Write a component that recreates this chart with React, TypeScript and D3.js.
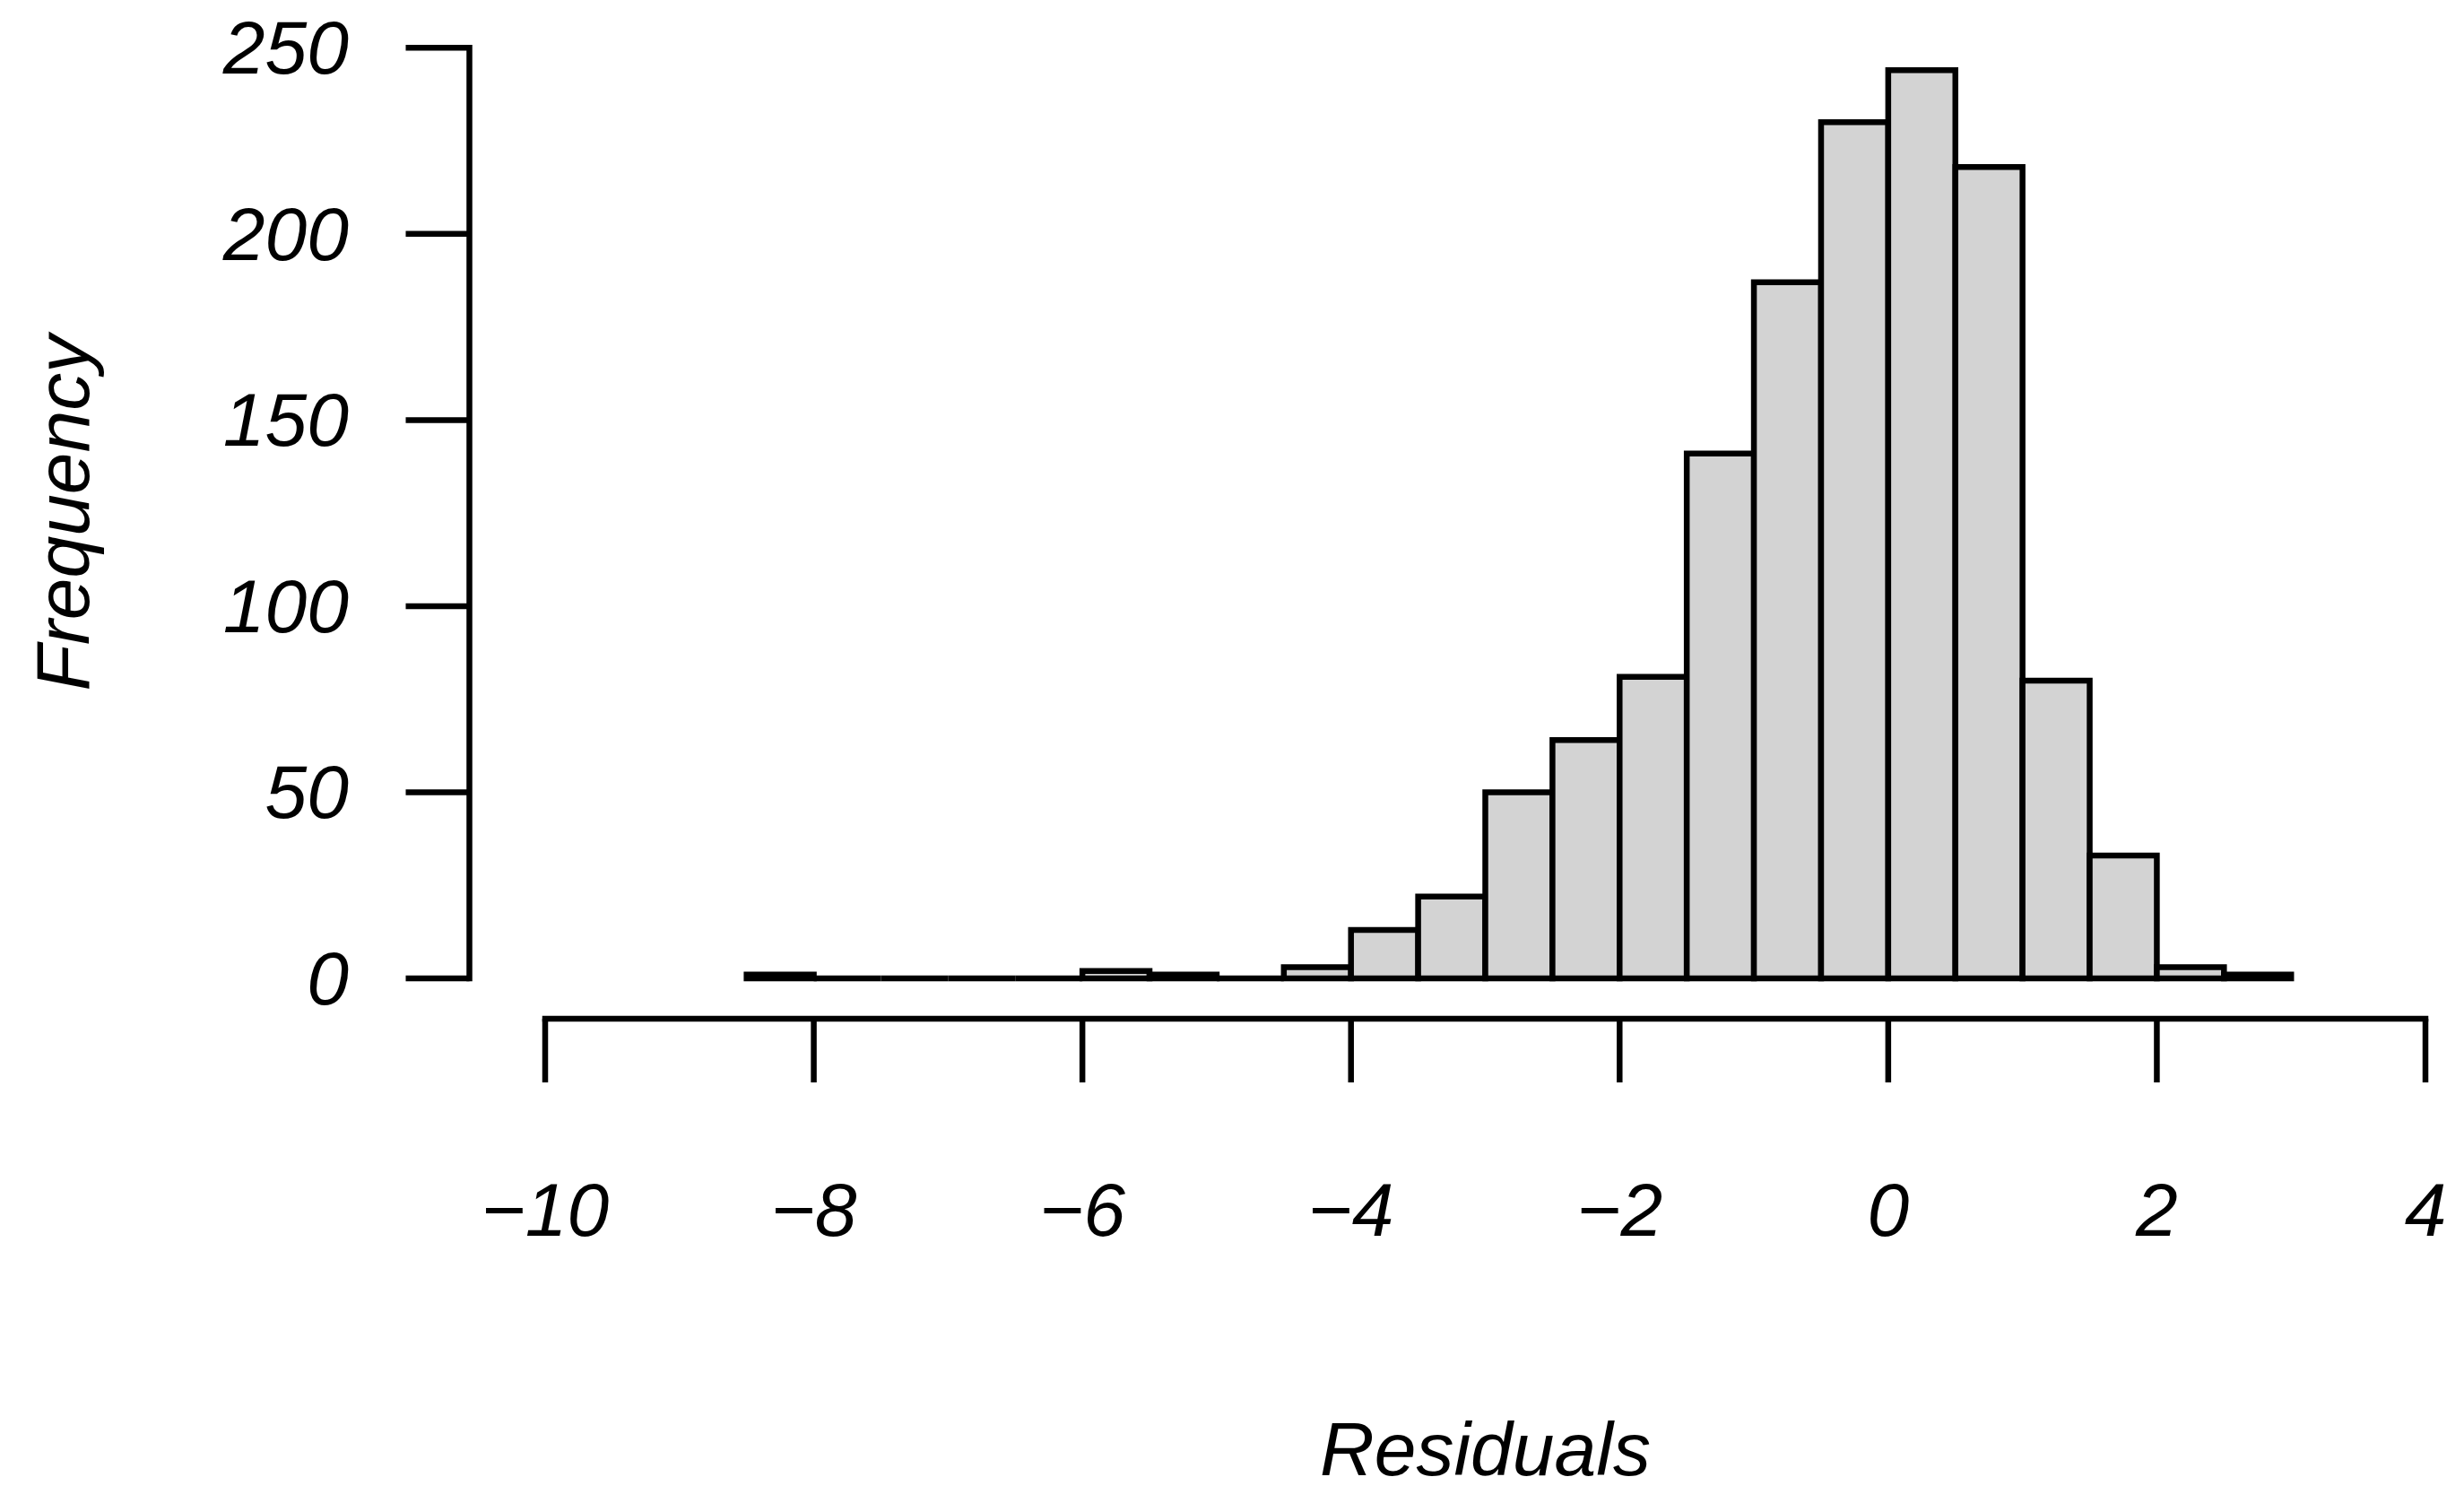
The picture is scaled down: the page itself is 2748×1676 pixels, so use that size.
import React from "react";
import * as d3 from "d3";

const binStarts = [-8.5, -8, -7.5, -7, -6.5, -6, -5.5, -5, -4.5, -4, -3.5, -3, -2.5, -2, -1.5, -1, -0.5, 0, 0.5, 1, 1.5, 2, 2.5];
const binWidth = 0.5;
const counts = [1, 0, 0, 0, 0, 2, 1, 0, 3, 13, 22, 50, 64, 81, 141, 187, 230, 244, 218, 80, 33, 3, 1];
const xTicks = [-10, -8, -6, -4, -2, 0, 2, 4];
const yTicks = [0, 50, 100, 150, 200, 250];
const xTitle = "Residuals";
const yTitle = "Frequency";

const fmt = (v: number) => (v < 0 ? "\u2212" + Math.abs(v) : String(v));

export default function App() {
  const W = 2748;
  const H = 1676;
  const x = d3.scaleLinear().domain([-10, 4]).range([608, 2705]);
  const y = d3.scaleLinear().domain([0, 250]).range([1091, 53.3]);
  const xAxisY = 1136;
  const yAxisX = 523.5;
  const tickLen = 71;
  const font = "'Liberation Sans', Arial, sans-serif";
  const fs = 84;
  const sw = 6.5;

  return (
    <svg
      width={W}
      height={H}
      viewBox={`0 0 ${W} ${H}`}
      style={{ position: "absolute", left: 0, top: 0, background: "#fff" }}
    >
      <rect x={0} y={0} width={W} height={H} fill="#fff" />
      {/* bars */}
      <g>
        {binStarts.map((s, i) => {
          const x0 = x(s);
          const x1 = x(s + binWidth);
          const y0 = y(0);
          const y1 = y(counts[i]);
          const d = `M${x0},${y0}V${y1}H${x1}V${y0}Z`;
          return (
            <path key={i} d={d} fill="#d3d3d3" stroke="#000" strokeWidth={sw} strokeLinejoin="miter" />
          );
        })}
      </g>
      {/* y axis */}
      <g>
        <line x1={yAxisX} x2={yAxisX} y1={y(yTicks[0])} y2={y(yTicks[yTicks.length - 1])} stroke="#000" strokeWidth={sw} strokeLinecap="square" />
        {yTicks.map((t) => (
          <g key={t}>
            <line x1={yAxisX} x2={yAxisX - tickLen} y1={y(t)} y2={y(t)} stroke="#000" strokeWidth={sw} />
            <text
              x={389}
              y={y(t)}
              textAnchor="end"
              dominantBaseline="central"
              fontFamily={font}
              fontStyle="italic"
              fontSize={fs}
              fill="#000"
            >
              {fmt(t)}
            </text>
          </g>
        ))}
      </g>
      {/* x axis */}
      <g>
        <line x1={x(xTicks[0])} x2={x(xTicks[xTicks.length - 1])} y1={xAxisY} y2={xAxisY} stroke="#000" strokeWidth={sw} strokeLinecap="square" />
        {xTicks.map((t) => (
          <g key={t}>
            <line x1={x(t)} x2={x(t)} y1={xAxisY} y2={xAxisY + tickLen} stroke="#000" strokeWidth={sw} />
            <text
              x={x(t)}
              y={1349}
              textAnchor="middle"
              dominantBaseline="central"
              fontFamily={font}
              fontStyle="italic"
              fontSize={fs}
              fill="#000"
            >
              {fmt(t)}
            </text>
          </g>
        ))}
      </g>
      <text
        x={(x(-10) + x(4)) / 2}
        y={1616}
        textAnchor="middle"
        dominantBaseline="central"
        fontFamily={font}
        fontStyle="italic"
        fontSize={fs}
        fill="#000"
      >
        {xTitle}
      </text>
      <text
        transform={`translate(70, ${(y(0) + y(250)) / 2}) rotate(-90)`}
        textAnchor="middle"
        dominantBaseline="central"
        fontFamily={font}
        fontStyle="italic"
        fontSize={fs}
        fill="#000"
      >
        {yTitle}
      </text>
    </svg>
  );
}
